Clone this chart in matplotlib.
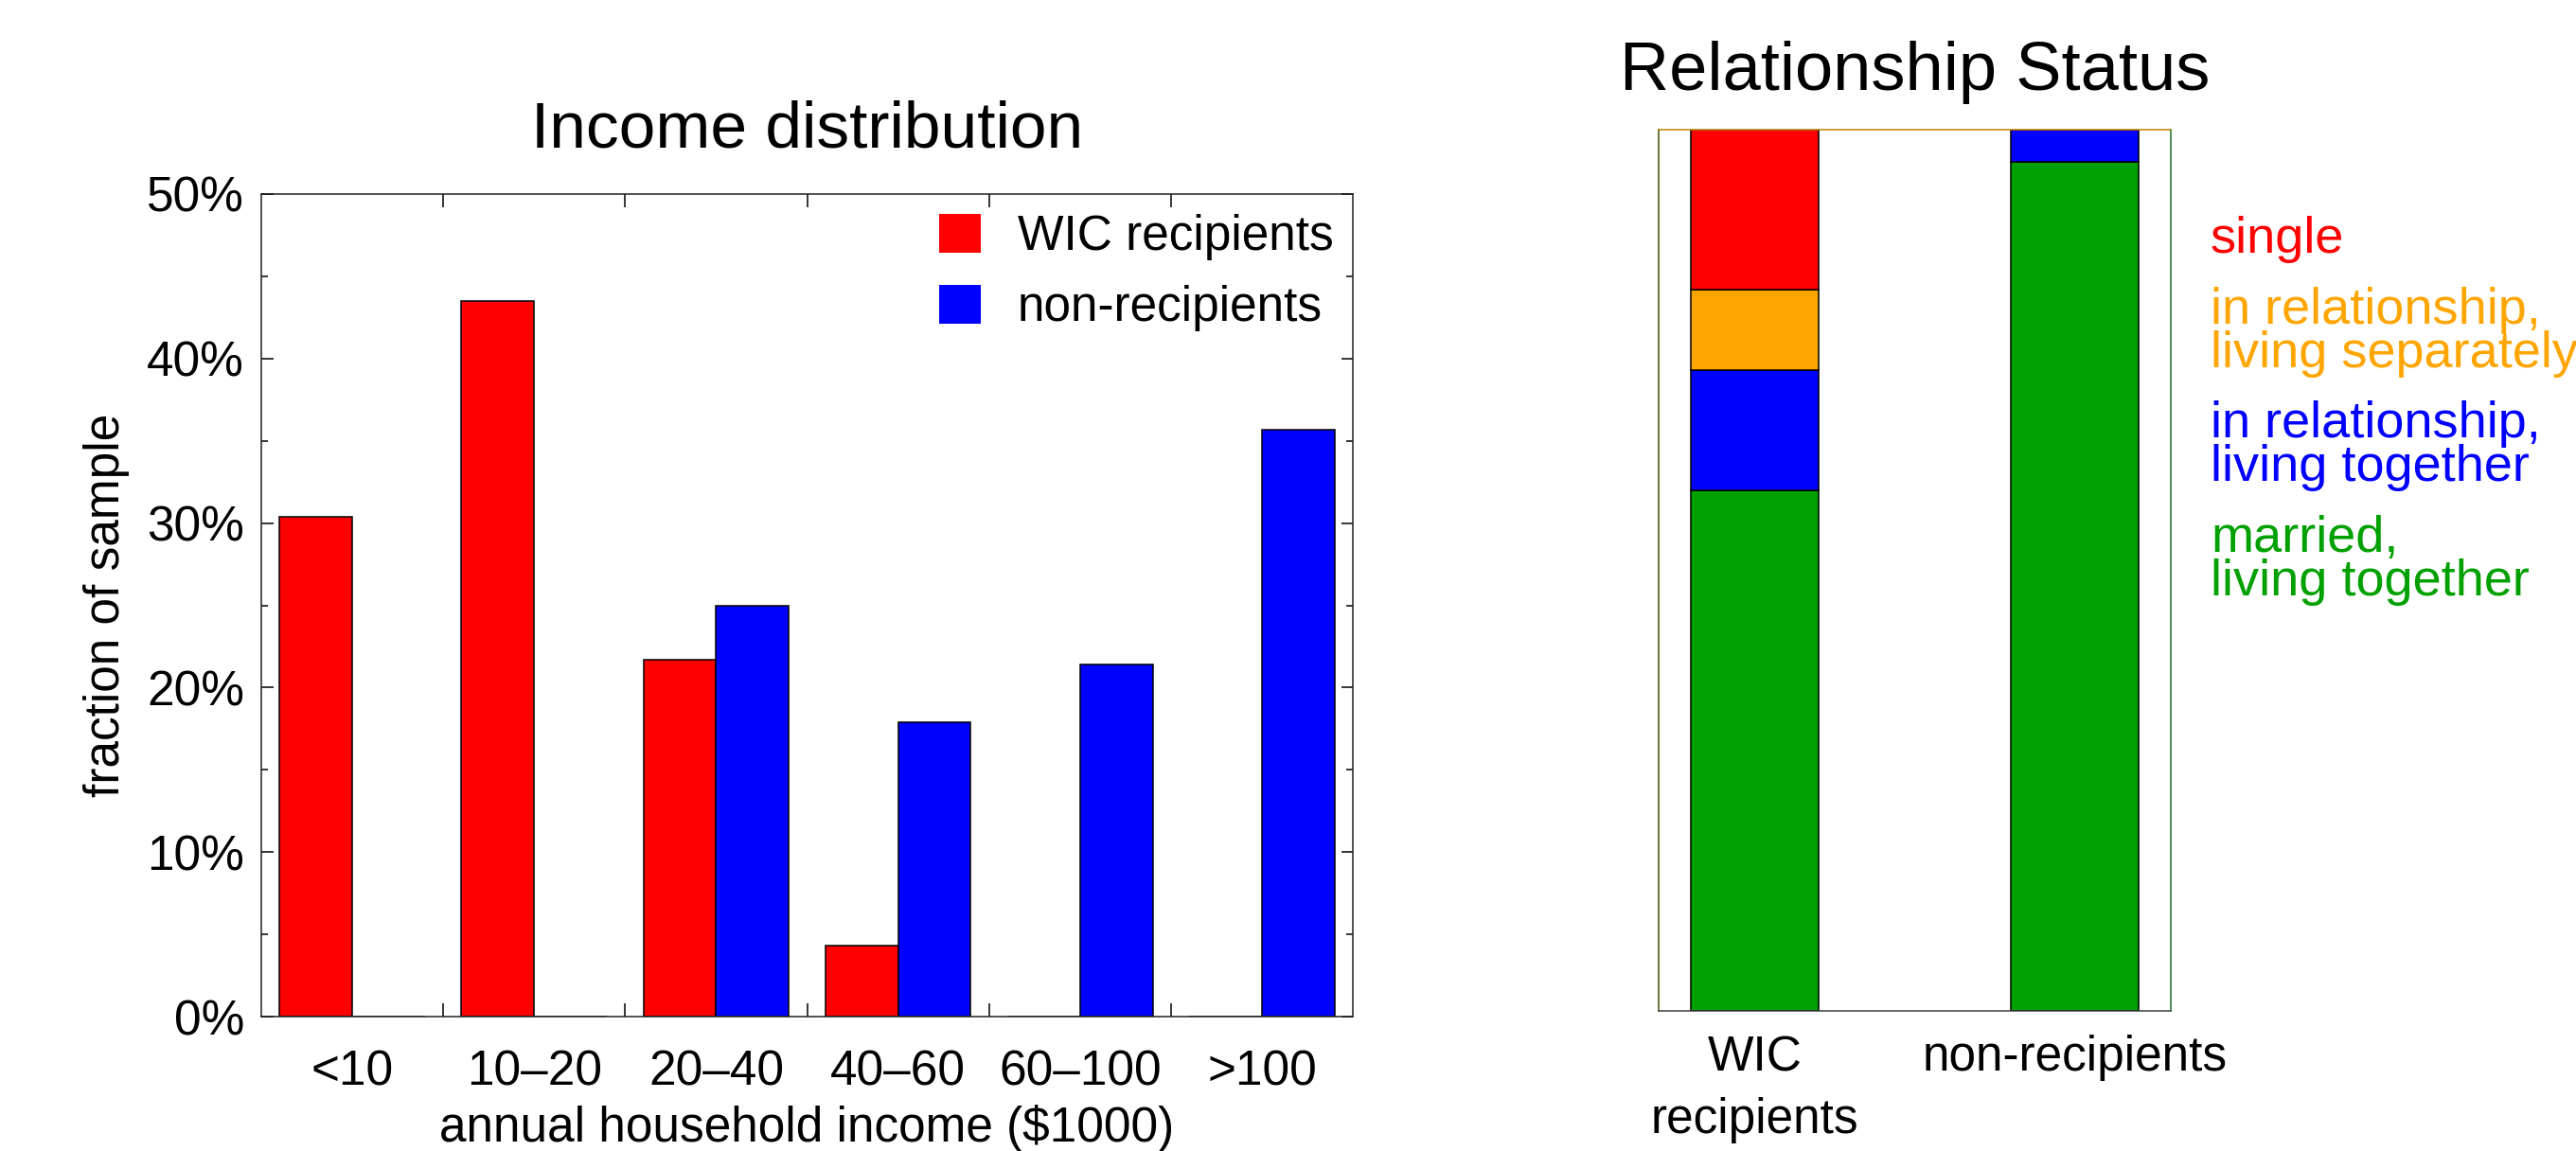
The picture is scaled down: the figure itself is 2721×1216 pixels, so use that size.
import numpy as np
import matplotlib
matplotlib.use('Agg')
import matplotlib.pyplot as plt
from matplotlib.ticker import PercentFormatter, MultipleLocator

plt.rcParams['font.family'] = ['Liberation Sans', 'DejaVu Sans']

# Income distribution (percent of each group)
income_bins = ['<10', '10–20', '20–40', '40–60', '60–100', '>100']
wic_income = [30.4, 43.5, 21.7, 4.3, 0.0, 0.0]
non_income = [0.0, 0.0, 25.0, 17.9, 21.4, 35.7]

# Relationship status (percent, stacked from the bottom)
groups = ['WIC\nrecipients', 'non-recipients']
status = ['married,\nliving together', 'in relationship,\nliving together',
          'in relationship,\nliving separately', 'single']
status_colors = ['#00a000', '#0000ff', '#ffa500', '#ff0000']
wic_status = [59.1, 13.6, 9.1, 18.2]
non_status = [96.3, 3.7, 0.0, 0.0]

W, H = 2721, 1216
fig = plt.figure(figsize=(W / 100, H / 100), dpi=100)

# --- left panel ---
ax = fig.add_axes([276 / W, 1 - 1074 / H, 1153 / W, 869 / H])
x = np.arange(len(income_bins))
ax.bar(x - 0.2, wic_income, width=0.4, color='#ff0000', edgecolor='black',
       linewidth=1.1, label='WIC recipients')
ax.bar(x + 0.2, non_income, width=0.4, color='#0000ff', edgecolor='black',
       linewidth=1.1, label='non-recipients')
ax.set_xlim(-0.5, len(income_bins) - 0.5)
ax.set_ylim(0, 50)

ax.set_xticks(x)
ax.set_xticklabels(income_bins)
ax.set_xticks(x[:-1] + 0.5, minor=True)
ax.tick_params(axis='x', which='major', length=0, pad=25, labelsize=37)
ax.tick_params(axis='x', which='minor', direction='in', length=10, width=1.1,
               top=True, bottom=True)
ax.yaxis.set_major_locator(MultipleLocator(10))
ax.yaxis.set_minor_locator(MultipleLocator(5))
ax.yaxis.set_major_formatter(PercentFormatter(decimals=0))
ax.tick_params(axis='y', which='major', direction='in', length=9, width=1.1,
               left=True, right=True, pad=13, labelsize=37)
ax.tick_params(axis='y', which='minor', direction='in', length=5, width=1.1,
               left=True, right=True)
for s in ax.spines.values():
    s.set_linewidth(1.1)
    s.set_color('#222222')

ax.set_title('Income distribution', fontsize=50, pad=36)
ax.set_xlabel('annual household income ($1000)', fontsize=37, labelpad=7)
ax.set_ylabel('fraction of sample', fontsize=37, labelpad=13)

leg = ax.legend(loc='upper right', frameon=False, fontsize=37,
                handlelength=0.85, handleheight=0.85, handletextpad=0.75,
                labelspacing=0.5, borderaxespad=0.0, borderpad=0.4)
for h in leg.legend_handles:
    h.set_edgecolor('none')

# --- right panel ---
ax2 = fig.add_axes([1752 / W, 1 - 1068 / H, 541 / W, 931 / H])
g = np.arange(len(groups))
bottom = np.zeros(len(groups))
for i, name in enumerate(status):
    vals = np.array([wic_status[i], non_status[i]])
    ax2.bar(g, vals, bottom=bottom, width=0.4, color=status_colors[i],
            edgecolor='black', linewidth=1.1)
    bottom += vals
ax2.set_xlim(-0.3, 1.3)
ax2.set_ylim(0, 100)
ax2.set_yticks([])
ax2.set_xticks(g)
ax2.set_xticklabels(groups)
ax2.tick_params(axis='x', length=0, pad=18, labelsize=37)
for lab in ax2.get_xticklabels():
    lab.set_linespacing(1.45)
ax2.spines['top'].set_color('#c08000')
ax2.spines['left'].set_color('#405000')
ax2.spines['bottom'].set_color('#404040')
ax2.spines['right'].set_color('#207020')
for s in ax2.spines.values():
    s.set_linewidth(1.1)
ax2.set_title('Relationship Status', fontsize=52, pad=30)

# labels next to the stacked bars, top to bottom (one text per line)
label_y = [267, 342, 462, 583]
line_step = 46
for name, col, yb in zip(status[::-1], status_colors[::-1], label_y):
    for k, line in enumerate(name.split('\n')):
        fig.text(2335 / W, 1 - (yb + k * line_step) / H, line, color=col,
                 fontsize=39, va='baseline', ha='left')

plt.savefig('out.png', dpi=100)
plt.close()
